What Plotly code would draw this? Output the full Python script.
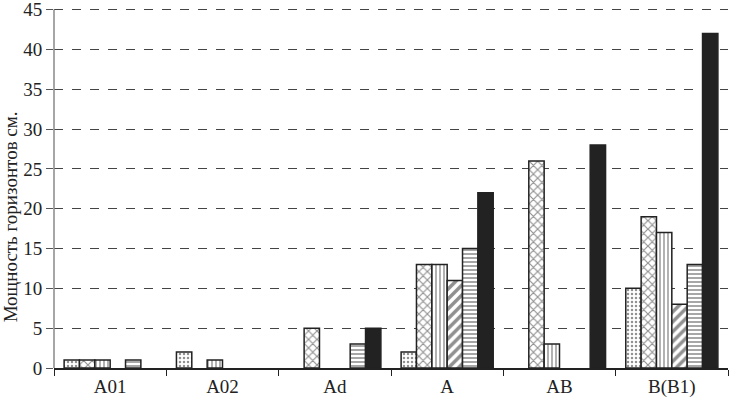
import plotly.graph_objects as go

categories = ["A01", "A02", "Ad", "A", "AB", "B(B1)"]
s_dots = [1, 2, 0, 2, 0, 10]
s_cross = [1, 0, 5, 13, 26, 19]
s_vert = [1, 1, 0, 13, 3, 17]
s_diag = [0, 0, 0, 11, 0, 8]
s_horiz = [1, 0, 3, 15, 0, 13]
s_black = [0, 0, 5, 22, 28, 42]
y_ticks = [0, 5, 10, 15, 20, 25, 30, 35, 40, 45]
y_max = 45

series = [
    (s_dots, ".", "white", 0.3, 4),
    (s_cross, "x", "white", 0.35, 6),
    (s_vert, "|", "white", 0.35, 4),
    (s_diag, "/", "white", 0.5, 7),
    (s_horiz, "-", "white", 0.4, 4),
    (s_black, "", "#222222", 0.3, 8),
]

fig = go.Figure()
for vals, shape, bg, sol, size in series:
    fig.add_trace(go.Bar(
        x=categories, y=[v if v else None for v in vals],
        marker=dict(
            color=bg,
            line=dict(color="#222222", width=1.5),
            pattern=dict(shape=shape, fgcolor="#222222", bgcolor=bg, solidity=sol, size=size),
        ),
        showlegend=False,
    ))

family = "Liberation Serif"
font = dict(family=family, size=19, color="#222222")
fig.update_layout(
    width=731, height=407,
    margin=dict(l=54, r=3, t=0, b=39),
    paper_bgcolor="white", plot_bgcolor="white",
    barmode="group", bargap=0.18, bargroupgap=0,
    font=font,
    xaxis=dict(
        showline=True, linecolor="#222222", linewidth=1.5,
        ticks="outside", tickson="boundaries", ticklen=6, tickcolor="#222222",
        showgrid=False, tickfont=font, automargin=False,
    ),
    yaxis=dict(
        range=[0, 46.2], tickvals=y_ticks,
        showline=False, ticklabeloverflow="allow",
        ticks="outside", ticklen=7, tickcolor="#555555",
        showgrid=True, gridcolor="#444444", griddash="dash", gridwidth=1,
        zeroline=False, tickfont=font, automargin=False,
    ),
    shapes=[dict(
        type="line", xref="paper", yref="y", x0=0, x1=0, y0=0, y1=y_max,
        line=dict(color="#888888", width=1.5), layer="above",
    )],
    annotations=[dict(
        text="Мощность горизонтов см.", textangle=-90,
        xref="paper", yref="paper", x=-0.065, y=0.41,
        xanchor="center", yanchor="middle", showarrow=False,
        font=dict(family=family, size=19, color="#222222"),
    )],
)

fig.write_html("out.html", config={"displayModeBar": False},
               post_script="document.body.style.margin='0';")
